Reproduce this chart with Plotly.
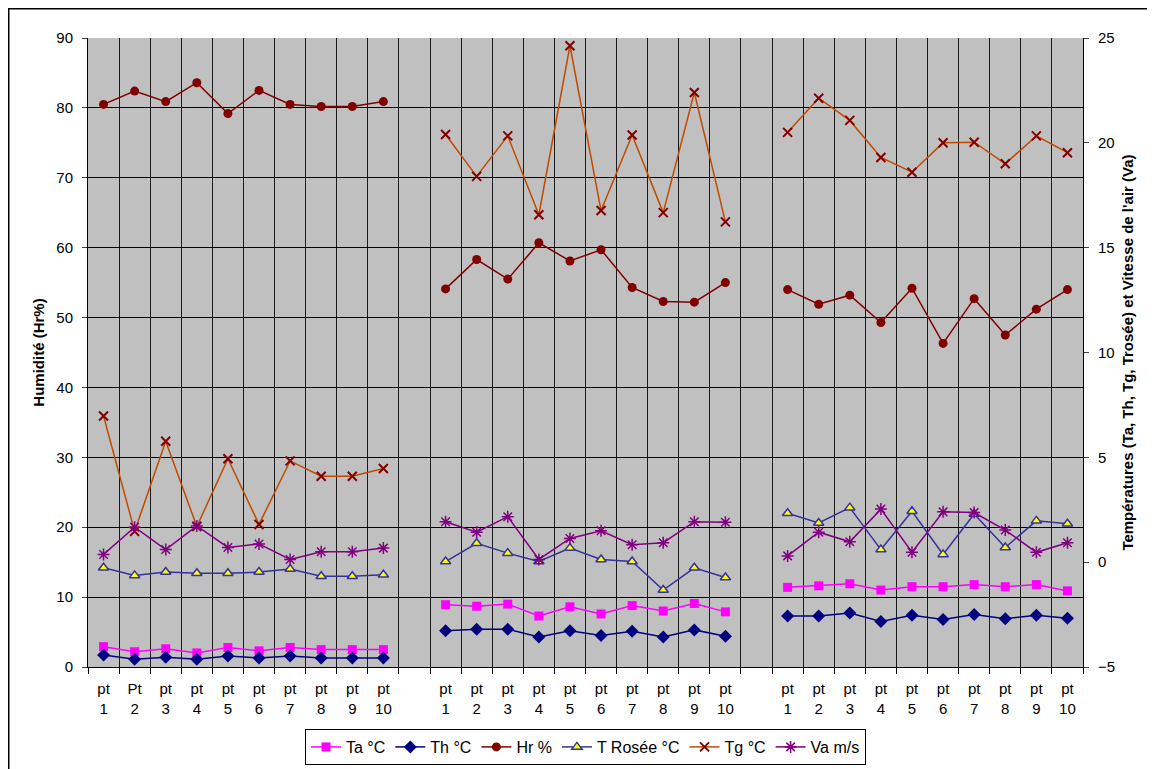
import plotly.graph_objects as go

# ---- data ----
group_labels_1 = ["pt<br>1", "Pt<br>2", "pt<br>3", "pt<br>4", "pt<br>5",
                  "pt<br>6", "pt<br>7", "pt<br>8", "pt<br>9", "pt<br>10"]
group_labels_2 = ["pt<br>1", "pt<br>2", "pt<br>3", "pt<br>4", "pt<br>5",
                  "pt<br>6", "pt<br>7", "pt<br>8", "pt<br>9", "pt<br>10"]
group_labels_3 = list(group_labels_2)

# Humidity (left axis, %)
hr = [80.5, 82.4, 80.9, 83.6, 79.2, 82.5, 80.5, 80.2, 80.2, 80.9,
      54.1, 58.3, 55.5, 60.7, 58.1, 59.7, 54.3, 52.3, 52.2, 55.0,
      54.0, 51.9, 53.2, 49.3, 54.2, 46.3, 52.7, 47.5, 51.2, 54.0]

# Temperatures and air speed (right axis)
ta = [-4.03, -4.27, -4.13, -4.33, -4.07, -4.23, -4.07, -4.17, -4.17, -4.17,
      -2.03, -2.10, -2.00, -2.57, -2.13, -2.47, -2.07, -2.33, -1.97, -2.37,
      -1.20, -1.13, -1.03, -1.33, -1.17, -1.17, -1.07, -1.17, -1.07, -1.37]
th = [-4.43, -4.63, -4.53, -4.63, -4.47, -4.57, -4.47, -4.57, -4.57, -4.57,
      -3.27, -3.20, -3.20, -3.57, -3.27, -3.50, -3.30, -3.57, -3.23, -3.53,
      -2.57, -2.57, -2.43, -2.83, -2.53, -2.73, -2.50, -2.70, -2.53, -2.67]
trosee = [-0.27, -0.63, -0.47, -0.53, -0.53, -0.47, -0.33, -0.67, -0.67, -0.60,
          0.03, 0.90, 0.43, 0.03, 0.67, 0.13, 0.03, -1.33, -0.27, -0.73,
          2.33, 1.87, 2.60, 0.60, 2.43, 0.37, 2.30, 0.70, 1.97, 1.83]
tg = [6.97, 1.47, 5.77, 1.70, 4.93, 1.80, 4.83, 4.10, 4.10, 4.47,
      20.40, 18.40, 20.33, 16.57, 24.63, 16.77, 20.37, 16.67, 22.40, 16.23,
      20.50, 22.13, 21.07, 19.30, 18.60, 20.00, 20.03, 19.00, 20.33, 19.53]
va = [0.37, 1.67, 0.60, 1.73, 0.70, 0.87, 0.13, 0.50, 0.50, 0.67,
      1.93, 1.43, 2.17, 0.13, 1.13, 1.50, 0.83, 0.93, 1.93, 1.90,
      0.30, 1.43, 0.97, 2.53, 0.47, 2.40, 2.37, 1.53, 0.47, 0.93]

# ---- category layout: three groups separated by one empty category ----
tick_labels = group_labels_1 + [""] + group_labels_2 + [""] + group_labels_3
positions = list(range(len(tick_labels)))
data_positions = [p for p, lab in zip(positions, tick_labels) if lab]


def expand(values):
    """Place 30 values on the 32 category slots (None in the gaps)."""
    out = [None] * len(tick_labels)
    for p, v in zip(data_positions, values):
        out[p] = v
    return out


FONT = "Liberation Sans, Arial, sans-serif"

fig = go.Figure()

series = [
    ("Ta °C", ta, "y2", dict(symbol="square", size=9, color="#FF00FF"), "#FF00FF"),
    ("Th °C", th, "y2", dict(symbol="diamond", size=10, color="#000080"), "#000080"),
    ("Hr %", hr, "y", dict(symbol="circle", size=9, color="#800000"), "#800000"),
    ("T Rosée °C", trosee, "y2",
     dict(symbol="triangle-up", size=9, color="#FFFF00",
          line=dict(color="#333399", width=1.5)), "#333399"),
    ("Tg °C", tg, "y2",
     dict(symbol="x-thin-open", size=9, color="#800000",
          line=dict(color="#800000", width=2)), "#C04A00"),
    ("Va m/s", va, "y2",
     dict(symbol="asterisk-open", size=10, color="#800080",
          line=dict(color="#800080", width=1.5)), "#800080"),
]

for name, vals, yax, marker, lcolor in series:
    fig.add_trace(go.Scatter(
        x=positions, y=expand(vals), name=name, mode="lines+markers",
        yaxis=yax, marker=marker, line=dict(color=lcolor, width=1.5),
        connectgaps=False,
    ))

# figure sits at an 8px page offset; in svg coords the plot area is x 80..1075, y 30..659
W, H = 1147, 761
ML, MR, MT, MB = 80, 72, 30, 102
PW, PH = W - ML - MR, H - MT - MB

fig.update_layout(
    width=W, height=H,
    paper_bgcolor="white", plot_bgcolor="#C0C0C0",
    margin=dict(l=ML, r=MR, t=MT, b=MB, autoexpand=False),
    font=dict(family=FONT, size=15, color="black"),
    xaxis=dict(
        range=[-0.5, len(tick_labels) - 0.5],
        tickmode="array", tickvals=data_positions,
        ticktext=[lab for lab in tick_labels if lab],
        showgrid=False, zeroline=False, ticks="",
        showline=True, linecolor="black", linewidth=1,
        ticklabelstandoff=8,
        tickfont=dict(size=15, family=FONT),
        minor=dict(tick0=-0.5, dtick=1, showgrid=True, gridcolor="#1a1a1a",
                   gridwidth=1, ticks="outside", ticklen=6, tickcolor="black"),
    ),
    yaxis=dict(
        title=dict(text="<b>Humidité (Hr%)</b>", font=dict(size=15, family=FONT), standoff=8),
        range=[0, 90], dtick=10, tick0=0,
        showgrid=True, gridcolor="black", gridwidth=1, zeroline=False,
        showline=True, linecolor="black", ticks="outside", ticklen=5,
        ticklabelstandoff=6,
        tickfont=dict(size=15, family=FONT),
    ),
    yaxis2=dict(
        title=dict(text="<b>Températures (Ta, Th, Tg, Trosée) et Vitesse de l'air (Va)</b>",
                   font=dict(size=15, family=FONT), standoff=8),
        overlaying="y", side="right",
        range=[-5, 25], dtick=5, tick0=-5,
        showgrid=False, zeroline=False,
        showline=True, linecolor="black", ticks="outside", ticklen=5,
        ticklabelstandoff=6,
        tickfont=dict(size=15, family=FONT),
    ),
    legend=dict(
        orientation="h", x=0.5, xanchor="center",
        yref="container", y=1 - 739 / H, yanchor="middle",
        bordercolor="black", borderwidth=1, bgcolor="white",
        font=dict(size=16, family=FONT), itemwidth=30,
        tracegroupgap=0,
    ),
    showlegend=True,
)

# outer chart frame (extends past the right and bottom edges, as in the reference)
fig.add_shape(type="rect", xref="paper", yref="paper",
              x0=(0.75 - ML) / PW, x1=(1170 - ML) / PW,
              y0=(H - MB - 800) / PH, y1=(H - MB - 0.75) / PH,
              line=dict(color="black", width=1.5), fillcolor="rgba(0,0,0,0)",
              layer="above")

fig.write_html("out.html")
